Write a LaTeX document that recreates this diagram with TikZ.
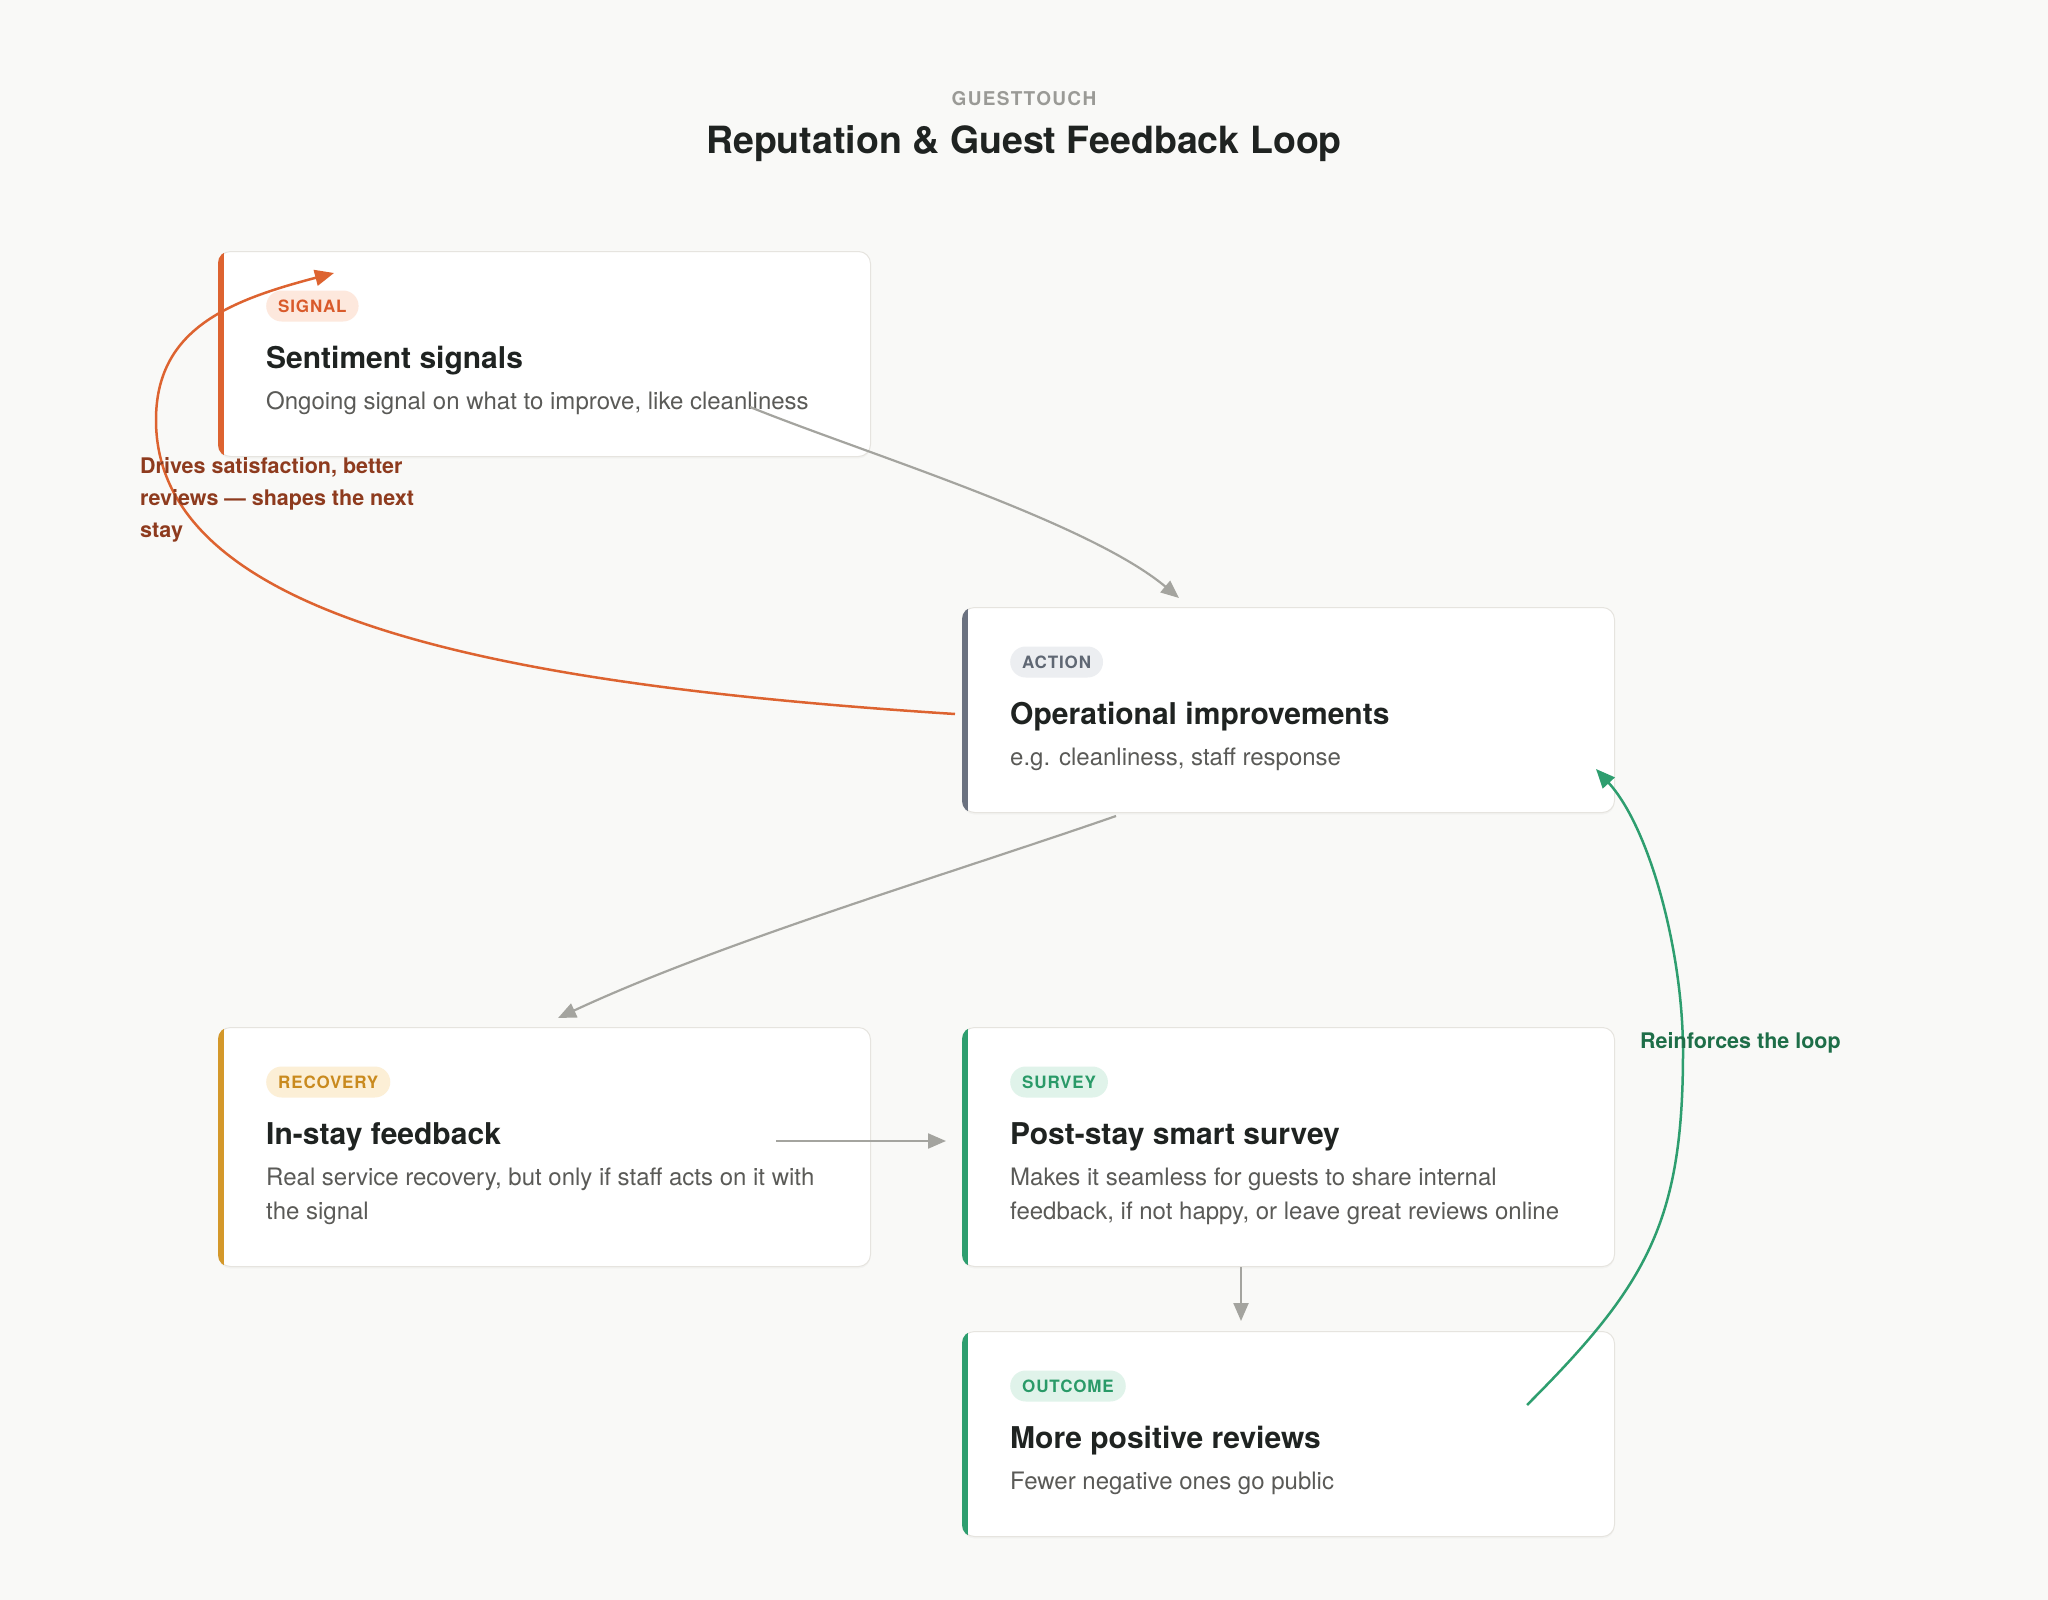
\documentclass[tikz,border=0pt]{standalone}
\usepackage{fontspec}
\setmainfont{TeX Gyre Heros}
\newfontfamily\pillfont[LetterSpace=5]{TeX Gyre Heros}
\newfontfamily\kickerfont[LetterSpace=7]{TeX Gyre Heros}
\usetikzlibrary{arrows.meta,calc,shadows}

\definecolor{bgc}{HTML}{F9F9F7}
\definecolor{cardline}{HTML}{E6E4DF}
\definecolor{headc}{HTML}{1F2321}
\definecolor{descc}{HTML}{5A5A57}
\definecolor{kickc}{HTML}{9A9A96}
\definecolor{flowc}{HTML}{A4A49F}
\definecolor{sigacc}{HTML}{DD6330}
\definecolor{sigbg}{HTML}{FDE8DD}
\definecolor{sigfg}{HTML}{D95A2B}
\definecolor{actacc}{HTML}{6B7280}
\definecolor{actbg}{HTML}{ECEEF1}
\definecolor{actfg}{HTML}{5F6773}
\definecolor{recacc}{HTML}{D4982A}
\definecolor{recbg}{HTML}{FCEFD6}
\definecolor{recfg}{HTML}{C98A1E}
\definecolor{suracc}{HTML}{2E9E6F}
\definecolor{surbg}{HTML}{E0F3EA}
\definecolor{surfg}{HTML}{2A9A68}
\definecolor{loopoc}{HTML}{DD6330}
\definecolor{loopotext}{HTML}{8E3B1E}
\definecolor{loopgc}{HTML}{2E9E6F}
\definecolor{loopgtext}{HTML}{1E6E48}

\newcommand\gcard[9]{%
  \node[card, minimum height=#4pt] (#1) at (#2,#3) {};
  \begin{scope}
    \clip[rounded corners=12pt] (#1.north west) rectangle (#1.south east);
    \fill[#5acc] ([xshift=-1pt]#1.north west) rectangle ([xshift=5.5pt]#1.south west);
  \end{scope}
  \node[pill, anchor=west, fill=#5bg, text=#5fg] (#1-pill) at ($(#1.north west)+(48,55)$) {#6};
  \node[heading] (#1-head) at ($(#1.north west)+(48,117)$) {#7};
  \node[desc] (#1-d1) at ($(#1.north west)+(48,158)$) {#8};
  \if\relax\detokenize{#9}\relax\else
  \node[desc] (#1-d2) at ($(#1.north west)+(48,192)$) {#9};
  \fi
}

\begin{document}
\begin{tikzpicture}[x=1pt,y=-1pt,
  card/.style={rectangle, draw=cardline, line width=1pt, fill=white,
    rounded corners=12pt, minimum width=652pt, inner sep=0pt, anchor=north west,
    drop shadow={shadow xshift=0pt, shadow yshift=-2pt, opacity=0.05}},
  pill/.style={rectangle, rounded corners=15.5pt, minimum height=31pt,
    inner xsep=12pt, inner ysep=0pt, font=\pillfont\bfseries\fontsize{17}{17}\selectfont},
  heading/.style={anchor=base west, inner sep=0pt, text=headc,
    font=\bfseries\fontsize{30}{36}\selectfont},
  desc/.style={anchor=base west, inner sep=0pt, text=descc,
    font=\fontsize{24}{34}\selectfont},
  flow/.style={draw=flowc, line width=2.2pt, -{Triangle[length=18pt,width=15pt]}},
  loopo/.style={draw=loopoc, line width=2.5pt, -{Triangle[length=19pt,width=16pt]}},
  loopg/.style={draw=loopgc, line width=2.5pt, -{Triangle[length=19pt,width=16pt]}},
  lbl/.style={inner sep=0pt, font=\bfseries\fontsize{21.5}{32}\selectfont}
]
\useasboundingbox (0,0) rectangle (2048,1600);
\fill[bgc] (0,0) rectangle (2048,1600);

% title
\node[anchor=base, inner sep=0pt, text=kickc, font=\kickerfont\bfseries\fontsize{19}{19}\selectfont] (kicker) at (1024,106) {GUESTTOUCH};
\node[anchor=base, inner sep=0pt, text=headc, font=\bfseries\fontsize{37.5}{40}\selectfont] (title) at (1024,153.5) {Reputation \& Guest Feedback Loop};

% cards
\gcard{sig}{218}{251}{205}{sig}{SIGNAL}{Sentiment signals}{Ongoing signal on what to improve, like cleanliness}{}
\gcard{act}{962}{607}{205}{act}{ACTION}{Operational improvements}{e.g. cleanliness, staff response}{}
\gcard{rec}{218}{1027}{239}{rec}{RECOVERY}{In-stay feedback}{Real service recovery, but only if staff acts on it with}{the signal}
\gcard{sur}{962}{1027}{239}{sur}{SURVEY}{Post-stay smart survey}{Makes it seamless for guests to share internal}{feedback, if not happy, or leave great reviews online}
\gcard{out}{962}{1331}{205}{sur}{OUTCOME}{More positive reviews}{Fewer negative ones go public}{}

% connector end points
\coordinate (g1s) at (750,407);
\coordinate (g1e) at (1179,598);
\coordinate (g2s) at (1116,816);
\coordinate (g2e) at (558,1018);
\coordinate (g3s) at (776,1141);
\coordinate (g3e) at (946,1141);
\coordinate (g4s) at (1241,1267);
\coordinate (g4e) at (1241,1321);
\coordinate (os) at (955,714);
\coordinate (om) at (156,420);
\coordinate (oe) at (334,273);
\coordinate (gs) at (1527,1405);
\coordinate (gm) at (1683,1052);
\coordinate (ge) at (1596,769);

% connectors
\draw[flow] (g1s) .. controls (861,452) and (1087,521) .. (g1e);
\draw[flow] (g2s) .. controls (946,875) and (721,942) .. (g2e);
\draw[flow] (g3s) -- (g3e);
\draw[flow] (g4s) -- (g4e);
\draw[loopo] (os) .. controls (505,685) and (156,620) .. (om)
                  .. controls (156,330) and (227,301) .. (oe);
\draw[loopg] (gs) .. controls (1647,1285) and (1683,1222) .. (gm)
                  .. controls (1683,952) and (1650,828) .. (ge);

% labels
\node[lbl, anchor=north west, align=left, text=loopotext] (olbl) at (140,457.5)
  {Drives satisfaction, better\\reviews — shapes the next\\stay};
\node[lbl, anchor=base west, text=loopgtext] (glbl) at (1640,1048) {Reinforces the loop};
\end{tikzpicture}
\end{document}
